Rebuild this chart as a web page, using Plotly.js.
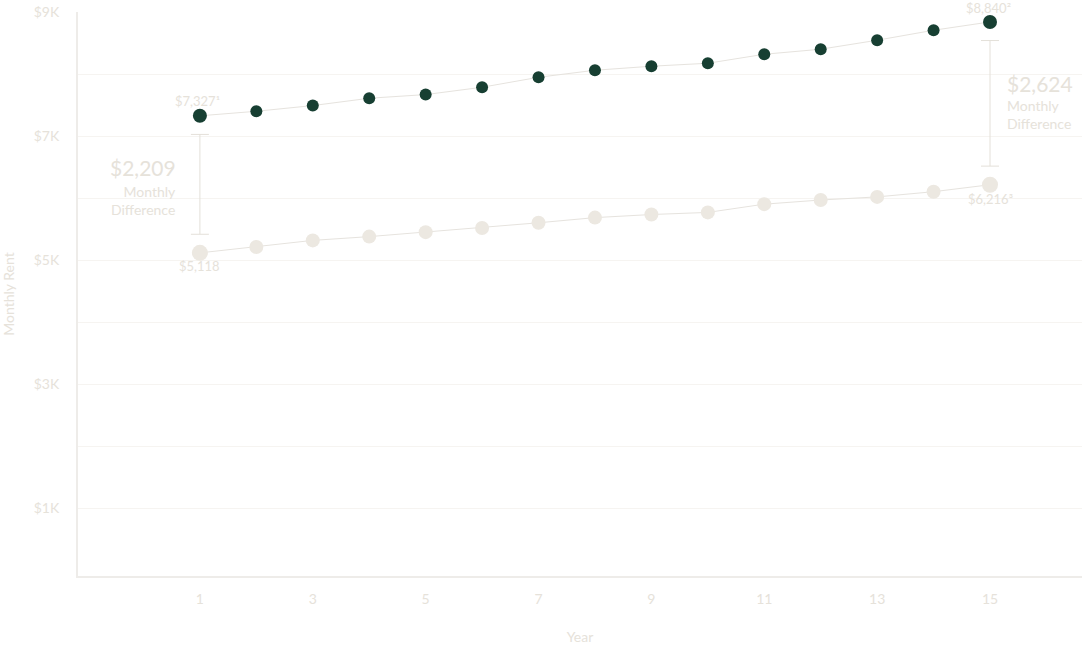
<!DOCTYPE html>
<html>
<head>
<meta charset="utf-8">
<script src="https://cdn.plot.ly/plotly-3.0.1.min.js"></script>
<style>
  html, body { margin: 0; padding: 0; background: #ffffff; }
  #chart { width: 1084px; height: 647px; }
</style>
</head>
<body>
<div id="chart"></div>
<script>
// ---- data ----
const years = [1, 2, 3, 4, 5, 6, 7, 8, 9, 10, 11, 12, 13, 14, 15];
const rentHigh = [7327, 7400, 7492, 7610, 7669, 7787, 7948, 8061, 8126, 8174, 8319, 8400, 8545, 8706, 8840];
const rentLow  = [5118, 5213, 5319, 5380, 5452, 5519, 5603, 5686, 5736, 5770, 5903, 5970, 6020, 6104, 6216];
const yTickVals = [1000, 3000, 5000, 7000, 9000];
const yTickText = ['$1K', '$3K', '$5K', '$7K', '$9K'];
const yMinorVals = [2000, 4000, 6000, 8000];
const xTickVals = [1, 3, 5, 7, 9, 11, 13, 15];
const footnoteHigh = ['\u00B9', '\u00B2'];
const footnoteLow = ['', '\u00B3'];

// ---- styles ----
const FONT = 'Lato, "Open Sans", sans-serif';
const TXT = '#e6e2da';
const DARK = '#173f32';
const LIGHT = '#ece8e1';
const LINE = '#e6e3de';

const n = years.length;
const last = n - 1;
const fmt = v => '$' + v.toLocaleString('en-US');

function sizes(endSize, midSize) {
  return years.map((_, i) => (i === 0 || i === last) ? endSize : midSize);
}

const ends = [0, last];
const mids = ends.map(i => (rentHigh[i] + rentLow[i]) / 2);
const gapUnits = 300;
const halfSpan = ends.map(i => (rentHigh[i] - rentLow[i]) / 2 - gapUnits);

const traces = [
  {
    x: ends.map(i => years[i]), y: mids, type: 'scatter', mode: 'markers',
    marker: { size: 1, color: 'rgba(0,0,0,0)' },
    error_y: { type: 'data', array: halfSpan, symmetric: true, color: '#e4e0d9', thickness: 1, width: 9 },
    hoverinfo: 'skip', showlegend: false
  },
  {
    x: years, y: rentLow, type: 'scatter', mode: 'lines+markers',
    line: { color: LINE, width: 1 },
    marker: { color: LIGHT, size: sizes(16, 14), opacity: 1, line: { width: 0 } },
    hoverinfo: 'skip', showlegend: false
  },
  {
    x: years, y: rentHigh, type: 'scatter', mode: 'lines+markers',
    line: { color: LINE, width: 1 },
    marker: { color: DARK, size: sizes(14, 12), opacity: 1, line: { width: 0 } },
    hoverinfo: 'skip', showlegend: false
  }
];

const annotations = [];
const small = { family: FONT, size: 13, color: TXT };
annotations.push({ x: years[0], y: rentHigh[0], text: fmt(rentHigh[0]) + footnoteHigh[0], showarrow: false, yshift: 15, xshift: -2, font: small });
annotations.push({ x: years[last], y: rentHigh[last], text: fmt(rentHigh[last]) + footnoteHigh[1], showarrow: false, yshift: 14, xshift: -2, font: small });
annotations.push({ x: years[0], y: rentLow[0], text: fmt(rentLow[0]) + footnoteLow[0], showarrow: false, yshift: -13, font: small });
annotations.push({ x: years[last], y: rentLow[last], text: fmt(rentLow[last]) + footnoteLow[1], showarrow: false, yshift: -14, font: small });
const d0 = rentHigh[0] - rentLow[0];
const d1 = rentHigh[last] - rentLow[last];
annotations.push({ x: years[0], y: mids[0], text: fmt(d0), showarrow: false, xanchor: 'right', xshift: -22, yshift: 17, font: { family: FONT, size: 21, color: TXT } });
annotations.push({ x: years[0], y: mids[0], text: 'Monthly<br>Difference', align: 'right', showarrow: false, xanchor: 'right', xshift: -22, yshift: -16, font: { family: FONT, size: 14, color: TXT } });
annotations.push({ x: years[last], y: mids[1], text: fmt(d1), showarrow: false, xanchor: 'left', xshift: 15, yshift: 20, font: { family: FONT, size: 21, color: TXT } });
annotations.push({ x: years[last], y: mids[1], text: 'Monthly<br>Difference', align: 'left', showarrow: false, xanchor: 'left', xshift: 15, yshift: -11, font: { family: FONT, size: 14, color: TXT } });

const layout = {
  width: 1084, height: 647,
  margin: { l: 78, r: 2, t: 12, b: 71 },
  paper_bgcolor: '#ffffff', plot_bgcolor: '#ffffff',
  font: { family: FONT, color: TXT, size: 13 },
  showlegend: false,
  xaxis: {
    range: [-1.16, 16.63],
    tickvals: xTickVals,
    ticks: 'outside', ticklen: 9, tickcolor: 'rgba(0,0,0,0)',
    showgrid: false, zeroline: false,
    showline: true, linecolor: '#eeece9', linewidth: 2,
    tickfont: { family: FONT, size: 14, color: TXT },
    title: { text: 'Year', font: { family: FONT, size: 14, color: TXT }, standoff: 26 }
  },
  yaxis: {
    range: [-90, 9000],
    tickvals: yTickVals, ticktext: yTickText,
    ticks: 'outside', ticklen: 14, tickcolor: 'rgba(0,0,0,0)',
    showgrid: true, gridcolor: '#f6f4f1', gridwidth: 1,
    minor: { tickvals: yMinorVals, showgrid: true, gridcolor: '#f6f4f1', gridwidth: 1, ticks: '' },
    zeroline: false,
    showline: true, linecolor: '#eeece9', linewidth: 2,
    tickfont: { family: FONT, size: 14, color: TXT },
    title: { text: 'Monthly Rent', font: { family: FONT, size: 14, color: TXT }, standoff: 16 }
  },
  annotations: annotations
};

Plotly.newPlot('chart', traces, layout, { displayModeBar: false, staticPlot: true });
</script>
</body>
</html>
